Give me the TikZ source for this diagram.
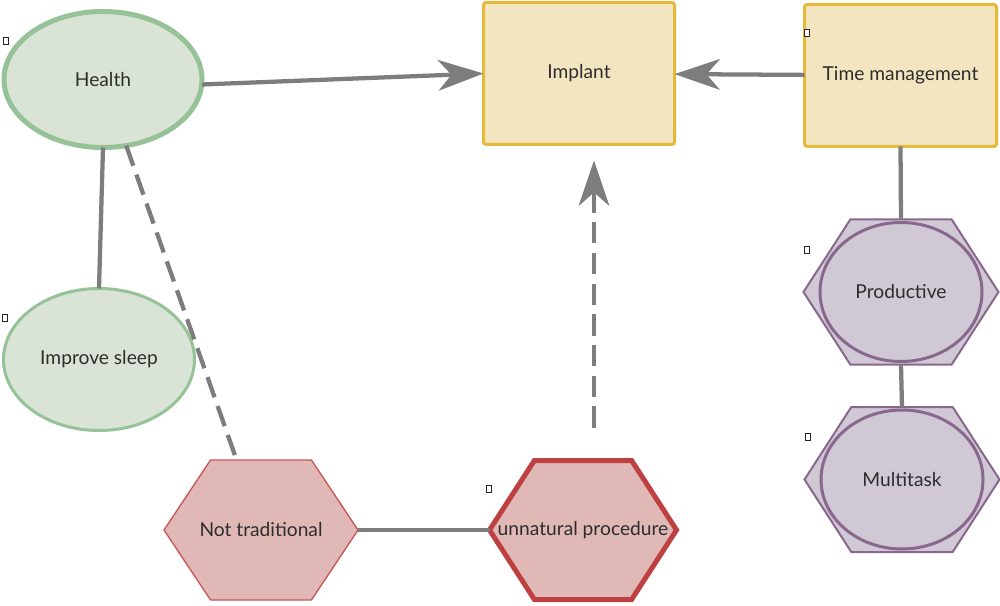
\documentclass[tikz,border=0pt]{standalone}
\usepackage{fontspec}
\setmainfont{Lato}
\usetikzlibrary{shapes.geometric,arrows.meta,calc,backgrounds}

\definecolor{linkgray}{RGB}{125,125,125}
\definecolor{inkgray}{RGB}{45,45,45}
\definecolor{greenedge}{RGB}{150,194,152}
\definecolor{greenfill}{RGB}{217,228,214}
\definecolor{goldedge}{RGB}{228,185,60}
\definecolor{goldfill}{RGB}{242,229,192}
\definecolor{plumedge}{RGB}{136,104,140}
\definecolor{plumfill}{RGB}{209,200,214}
\definecolor{rededge}{RGB}{200,85,85}
\definecolor{darkred}{RGB}{190,64,64}
\definecolor{redfill}{RGB}{224,185,183}

\tikzset{every picture/.style={line width=0.75pt}}

% hexagon outline drawn round a node
\newcommand{\hexshape}[2]{%
  \draw[#2] (#1.west) -- ($(#1.north west)!0.24!(#1.north east)$) -- ($(#1.north east)!0.24!(#1.north west)$) -- (#1.east) -- ($(#1.south east)!0.24!(#1.south west)$) -- ($(#1.south west)!0.24!(#1.south east)$) -- cycle;}

\begin{document}
\begin{tikzpicture}[x=0.75pt,y=0.75pt,yscale=-1,xscale=1,
  font=\fontsize{14.4}{17}\selectfont,
  oval/.style={ellipse, draw=greenedge, fill=greenfill, text=inkgray, inner sep=0pt, outer sep=0pt},
  panel/.style={rectangle, rounded corners=2pt, draw=goldedge, fill=goldfill, line width=2.25pt, text=inkgray, minimum width=144pt, minimum height=106.5pt, outer sep=0pt},
  hexbox/.style={rectangle, inner sep=0pt, outer sep=0pt, text=inkgray},
  link/.style={draw=linkgray, line width=3.2pt},
  dashlink/.style={link, dash pattern=on 16pt off 7pt},
  bigtip/.style={-{Stealth[length=34pt,width=23pt,inset=10pt]}},
  flagbox/.style={draw=black!85, fill=white, line width=0.5pt, inner sep=0pt, minimum width=3.75pt, minimum height=5.25pt}]
\useasboundingbox (0,0) rectangle (1000,606);

%Shape: Ellipse
\node[oval, line width=3.75pt, minimum width=148.5pt, minimum height=102pt] (health) at (103,79.5) {Health};
\node[oval, line width=2.25pt, minimum width=143.25pt, minimum height=106.5pt] (sleep) at (99,359.5) {Improve sleep};

%Shape: Rectangle
\node[panel, minimum width=143.25pt] (implant) at (579,73.5) {Implant};
\node[panel] (timemgmt) at (900.5,75.5) {Time management};

%Shape: Hexagon
\node[hexbox, minimum width=146.25pt, minimum height=108.75pt] (productive) at (901,292) {Productive};
\node[hexbox, minimum width=146.25pt, minimum height=108.75pt] (multitask) at (902,479.5) {Multitask};
\node[hexbox, minimum width=145.5pt, minimum height=105pt] (nottrad) at (261,530) {Not traditional};
\node[hexbox, minimum width=140.25pt, minimum height=104.25pt] (unnatural) at (583,530) {unnatural procedure};

\begin{scope}[on background layer]
\hexshape{productive}{draw=plumedge, fill=plumfill, line width=1.5pt}
\draw[plumedge, line width=2.25pt] (productive.center) ellipse [x radius=81, y radius=69.5];
\hexshape{multitask}{draw=plumedge, fill=plumfill, line width=1.5pt}
\draw[plumedge, line width=2.25pt] (multitask.center) ellipse [x radius=81, y radius=69.5];
\hexshape{nottrad}{draw=rededge, fill=redfill, line width=1pt}
\hexshape{unnatural}{draw=darkred, fill=redfill, line width=3.75pt}
\end{scope}

% small markers
\node[flagbox] (flaghealth) at (6,41) {};
\node[flagbox] (flagsleep) at (5,318) {};
\node[flagbox] (flagtime) at (807,33) {};
\node[flagbox] (flagprod) at (807,250) {};
\node[flagbox] (flagmulti) at (808,437) {};
\node[flagbox] (flagunnat) at (489,489) {};

\coordinate (dashfrom) at ($(unnatural.north)+(11,-33)$);
\coordinate (dashto) at ($(implant.south)+(15,16)$);

%Straight Lines
\draw[link, bigtip] ($(health.east)+(0,5)$) -- (implant.west);
\draw[link, bigtip] (timemgmt) -- (implant);
\draw[link] (health.south) -- (sleep.north);
\draw[dashlink] (health) -- (nottrad);
\draw[link] (nottrad.east) -- (unnatural.west);
\draw[dashlink, bigtip] (dashfrom) -- (dashto);
\draw[link] (timemgmt.south) -- (productive.north);
\draw[link] (productive.south) -- (multitask.north);

\end{tikzpicture}
\end{document}
